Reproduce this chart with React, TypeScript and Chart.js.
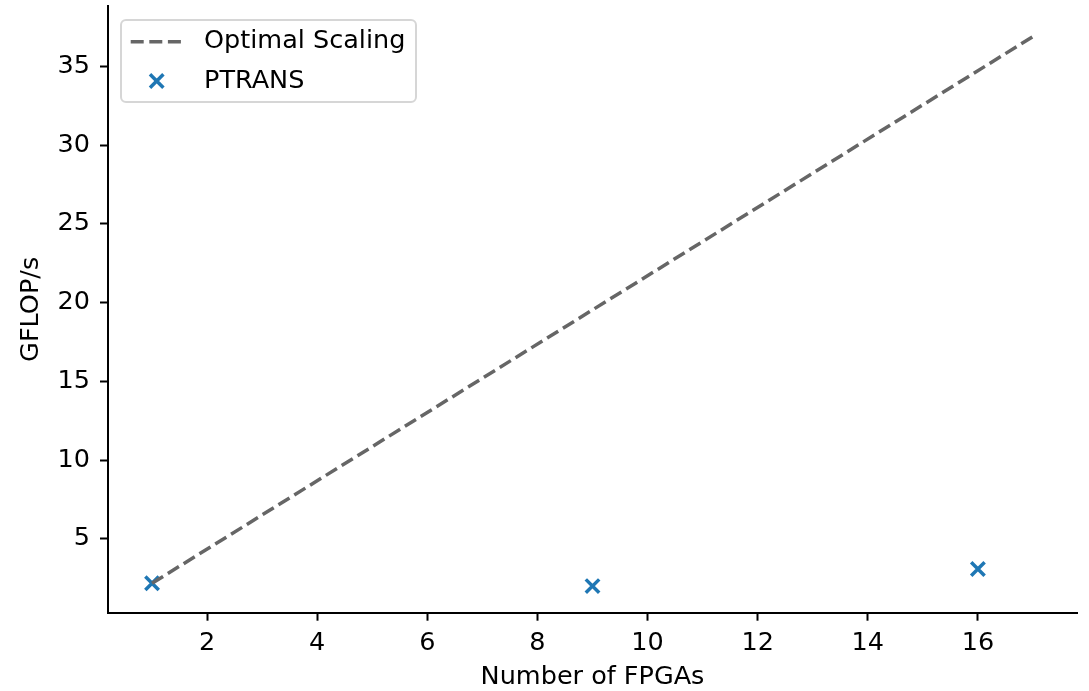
import React, { useEffect, useRef } from "react";
import { Chart, registerables } from "chart.js";

Chart.register(...registerables);

const optimalX = [1, 17];
const optimalY = [2.17, 36.9];
const ptransX = [1, 9, 16];
const ptransY = [2.17, 1.99, 3.08];
const xTicks = [2, 4, 6, 8, 10, 12, 14, 16];
const yTicks = [5, 10, 15, 20, 25, 30, 35];
const seriesLabels = ["Optimal Scaling", "PTRANS"];
const xTitle = "Number of FPGAs";
const yTitle = "GFLOP/s";

const FONT = "'DejaVu Sans', sans-serif";
const FS = 25.5;
const LINE_COLOR = "#666666";
const MARK_COLOR = "#1f77b4";

const legendPlugin = {
  id: "mplLegend",
  afterDraw(chart: any) {
    const ctx = chart.ctx as CanvasRenderingContext2D;
    const ds = chart.data.datasets;
    ctx.save();
    const bx = 121, by = 20, bw = 295, bh = 82, br = 5;
    ctx.beginPath();
    (ctx as any).roundRect(bx, by, bw, bh, br);
    ctx.fillStyle = "rgba(255,255,255,0.8)";
    ctx.fill();
    ctx.lineWidth = 2;
    ctx.strokeStyle = "#d6d6d6";
    ctx.stroke();

    // entry 1: dashed line
    const y1 = 41.7;
    ctx.beginPath();
    ctx.setLineDash([13, 5.6]);
    ctx.lineCap = "butt";
    ctx.lineWidth = 3.5;
    ctx.strokeStyle = ds[0].borderColor;
    ctx.moveTo(130.7, y1);
    ctx.lineTo(181.7, y1);
    ctx.stroke();
    ctx.setLineDash([]);

    // entry 2: x marker
    const y2 = 81;
    const cx = 156.7;
    const h = 6.7;
    ctx.beginPath();
    ctx.lineWidth = 3.5;
    ctx.strokeStyle = ds[1].borderColor;
    ctx.moveTo(cx - h, y2 - h);
    ctx.lineTo(cx + h, y2 + h);
    ctx.moveTo(cx - h, y2 + h);
    ctx.lineTo(cx + h, y2 - h);
    ctx.stroke();

    ctx.fillStyle = "#000";
    ctx.font = `${FS}px ${FONT}`;
    ctx.textBaseline = "middle";
    ctx.textAlign = "left";
    ctx.fillText(ds[0].label, 204, y1);
    ctx.fillText(ds[1].label, 204, y2);
    ctx.restore();
  },
};

export default function App() {
  const ref = useRef<HTMLCanvasElement | null>(null);

  useEffect(() => {
    if (!ref.current) return;
    Chart.defaults.font.family = FONT;
    Chart.defaults.color = "#000";
    const chart = new Chart(ref.current, {
      type: "scatter",
      data: {
        datasets: [
          {
            label: seriesLabels[0],
            data: optimalX.map((x, i) => ({ x, y: optimalY[i] })),
            showLine: true,
            borderColor: LINE_COLOR,
            backgroundColor: LINE_COLOR,
            borderWidth: 3.5,
            borderDash: [13, 5.6],
            borderCapStyle: "butt",
            pointRadius: 0,
            pointHoverRadius: 0,
          },
          {
            label: seriesLabels[1],
            data: ptransX.map((x, i) => ({ x, y: ptransY[i] })),
            borderColor: MARK_COLOR,
            backgroundColor: MARK_COLOR,
            pointStyle: "crossRot",
            pointRadius: 9.5,
            pointBorderWidth: 3.5,
            pointHoverRadius: 9.5,
          },
        ],
      },
      options: {
        animation: false,
        responsive: true,
        maintainAspectRatio: false,
        layout: { autoPadding: false, padding: { left: 0, right: 12, top: 6, bottom: 0 } },
        plugins: {
          legend: { display: false },
          tooltip: { enabled: false },
        },
        scales: {
          x: {
            type: "linear",
            min: 0.2,
            max: 17.8,
            afterBuildTicks: (s: any) => {
              s.ticks = xTicks.map((v) => ({ value: v }));
            },
            afterFit: (s: any) => {
              s.height = 78.3;
              s.paddingLeft = 0;
              s.paddingRight = 0;
            },
            ticks: {
              font: { size: FS, family: FONT },
              color: "#000",
              padding: 7,
              maxRotation: 0,
              autoSkip: false,
            },
            grid: {
              display: true,
              drawOnChartArea: false,
              drawTicks: true,
              tickLength: 8,
              tickWidth: 2,
              tickColor: "#000",
            },
            border: { display: true, color: "#000", width: 2 },
            title: {
              display: true,
              text: xTitle,
              font: { size: FS, family: FONT, lineHeight: 1.1 },
              color: "#000",
              padding: { top: 0, bottom: 0 },
            },
          },
          y: {
            type: "linear",
            min: 0.3,
            max: 38.84,
            afterBuildTicks: (s: any) => {
              s.ticks = yTicks.map((v) => ({ value: v }));
            },
            afterFit: (s: any) => {
              s.width = 108;
              s.paddingTop = 0;
              s.paddingBottom = 0;
            },
            ticks: {
              font: { size: FS, family: FONT },
              color: "#000",
              padding: 10,
              autoSkip: false,
            },
            grid: {
              display: true,
              drawOnChartArea: false,
              drawTicks: true,
              tickLength: 8,
              tickWidth: 2,
              tickColor: "#000",
            },
            border: { display: true, color: "#000", width: 2 },
            title: {
              display: true,
              text: yTitle,
              font: { size: FS, family: FONT },
              color: "#000",
              padding: { top: 16, bottom: 0 },
            },
          },
        },
      } as any,
      plugins: [legendPlugin],
    });
    return () => chart.destroy();
  }, []);

  return (
    <div style={{ position: "fixed", left: 0, top: 0, width: 1089, height: 691, background: "#fff" }}>
      <canvas ref={ref} />
    </div>
  );
}
